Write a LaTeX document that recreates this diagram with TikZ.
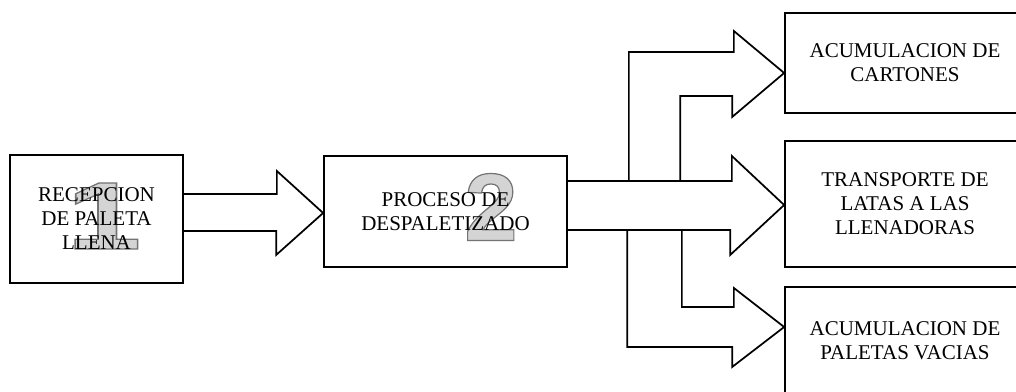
\documentclass[tikz,border=0pt]{standalone}
\usepackage{fontspec}
\setmainfont{Liberation Serif}
\newfontfamily\numfont{Liberation Sans}
\usetikzlibrary{calc}
\definecolor{numfill}{RGB}{212,212,212}
\newcommand\hollownum[1]{\special{pdf:literal direct 0.45 G 0.9 w 2 Tr}#1\special{pdf:literal direct 0 Tr}}

\begin{document}
\begin{tikzpicture}[x=0.75pt,y=-0.75pt,line join=miter,
  box/.style={draw,line width=1.3pt,align=center,inner sep=0pt,
    font=\fontsize{15.75}{18}\selectfont},
  flow/.style={draw,line width=1.3pt},
  numeral/.style={text=numfill,inner sep=0pt,
    font=\numfont\bfseries\fontsize{72}{72}\selectfont}]
  \useasboundingbox (0,0) rectangle (1016,392);
  \clip (0,0) rectangle (1016,392);
  % numeros de etapa
  \node[numeral,xscale=1.4] (n1) at (104,216) {\hollownum{1}};
  \node[numeral] (n2) at (491,207) {\hollownum{2}};
  % bloques
  \node[box,minimum width=129.75pt,minimum height=96pt] (rec) at (96.5,219) {RECEPCION\\DE PALETA\\LLENA};
  \node[box,minimum width=182.25pt,minimum height=83.25pt] (desp) at (445.5,211.5) {PROCESO DE\\DESPALETIZADO};
  \node[box,minimum width=180pt,minimum height=75pt] (acum) at (905,63) {ACUMULACION DE\\CARTONES};
  \node[box,minimum width=180pt,minimum height=94.5pt] (trans) at (905,204) {TRANSPORTE DE\\LATAS A LAS\\LLENADORAS};
  \node[box,minimum width=180pt,minimum height=80.25pt] (vac) at (905,340.5) {ACUMULACION DE\\PALETAS VACIAS};
  % flecha 1 -> 2
  \draw[flow] ($(rec.east)+(0,-25)$) -- ++(93,0) -- ++(0,-23) -- ($(desp.west)+(0,1.5)$)
    -- ++(-47,42) -- ++(0,-24) -- ($(rec.east)+(0,12)$);
  % flecha 2 -> transporte
  \draw[flow] ($(desp.east)+(0,-30.5)$) -- ++(164,0) -- ++(0,-25) -- ($(trans.west)+(0,1)$)
    -- ++(-54,50) -- ++(0,-25) -- ($(desp.east)+(0,18.5)$);
  % rama superior -> cartones
  \draw[flow] ($(desp.east)+(61,-30.5)$) -- ++(0,-129) -- ++(105,0) -- ++(0,-21)
    -- ($(acum.west)+(0,10)$) -- ++(-52,44) -- ++(0,-21) -- ++(-52,0) -- ++(0,85);
  % rama inferior -> paletas vacias
  \draw[flow] ($(desp.east)+(114,18.5)$) -- ++(0,77) -- ++(52,0) -- ++(0,-19)
    -- ($(vac.west)+(0,-13.5)$) -- ++(-52,40) -- ++(0,-20) -- ++(-105,0) -- ++(0,-117);
\end{tikzpicture}
\end{document}
